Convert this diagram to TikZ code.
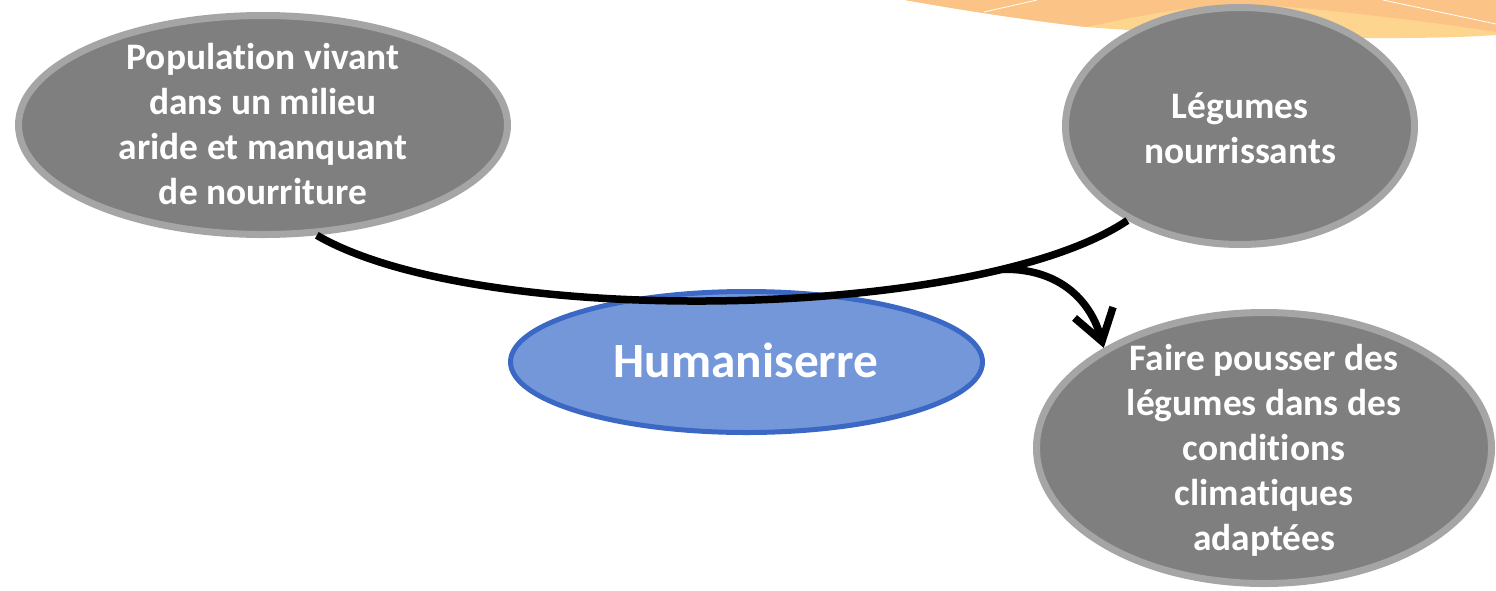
\documentclass[tikz,border=0pt]{standalone}
\usepackage{fontspec}
\setmainfont{Carlito}[RawFeature={-liga}]
\usetikzlibrary{shapes.geometric,arrows.meta}
\definecolor{grayfill}{HTML}{7F7F7F}
\definecolor{grayline}{HTML}{A5A5A5}
\definecolor{bluefill}{HTML}{7397D9}
\definecolor{blueline}{HTML}{3A68C4}
\definecolor{orangeA}{HTML}{FBC386}
\definecolor{orangeB}{HTML}{FDD58E}
\begin{document}
\begin{tikzpicture}[x=1pt,y=-1pt,
  grayell/.style={ellipse, draw=grayline, fill=grayfill, line width=7pt, inner sep=0pt},
  blueell/.style={ellipse, draw=blueline, fill=bluefill, line width=5pt, inner sep=0pt},
  txt/.style={text=white, font=\fontsize{37.4}{45}\selectfont\bfseries, align=center, inner sep=0pt},
  bigtxt/.style={text=white, font=\fontsize{49.3}{56}\selectfont\bfseries, inner sep=0pt},
  link/.style={line width=7.5pt, black},
  ray/.style={white, line width=0.8pt}]
\useasboundingbox (0,0) rectangle (1496,590);
% decorative orange band (top right)
\fill[orangeB] (905,0) -- (1496,0) -- (1496,35) .. controls (1400,42) and (1200,36) .. (1086,27) .. controls (1010,18) and (950,8) .. (905,0) -- cycle;
\fill[orangeA] (905,0) -- (1496,0) -- (1496,32) .. controls (1420,20) and (1300,6) .. (1240,4) .. controls (1170,8) and (1120,20) .. (1086,27) .. controls (1010,18) and (950,8) .. (905,0) -- cycle;
\draw[ray] (984,12) -- (1037,0);
\draw[ray] (1383,0) -- (1496,24);
% ellipses
\node[grayell, minimum width=489pt, minimum height=219pt] (pop) at (263,125) {};
\node[txt] (popt) at (263,124) {Population vivant\\dans un milieu\\aride et manquant\\de nourriture};
\node[grayell, minimum width=349pt, minimum height=237pt] (leg) at (1240,126) {};
\node[txt] (legt) at (1240,128) {Légumes\\nourrissants};
\node[blueell, minimum width=472pt, minimum height=141pt] (hum) at (746.5,362) {};
\node[bigtxt] (humt) at (746,360) {Humaniserre};
\node[grayell, minimum width=455pt, minimum height=271pt] (fair) at (1264,448) {};
\node[txt] (fairt) at (1264,450) {Faire pousser des\\légumes dans des\\conditions\\climatiques\\adaptées};
% connectors
\draw[link] (pop.-64) .. controls (480,330) and (980,320) .. (leg.-140) coordinate[pos=0.8] (j);
\draw[link, -{Straight Barb[length=30pt,width=40pt]}] (j) .. controls (1050,268) and (1088,292) .. (fair.148);
\end{tikzpicture}
\end{document}
